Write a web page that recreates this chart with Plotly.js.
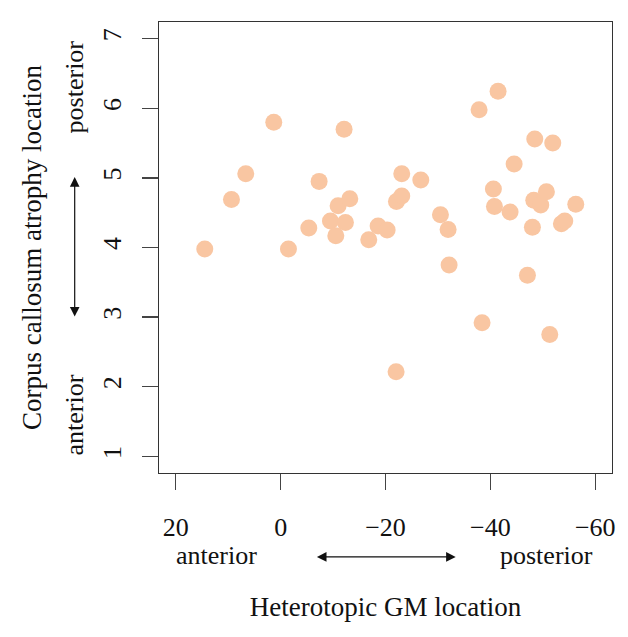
<!DOCTYPE html>
<html>
<head>
<meta charset="utf-8">
<script src="https://cdn.plot.ly/plotly-3.0.1.min.js"></script>
<style>html,body{margin:0;padding:0;background:#fff;}#chart{width:628px;height:637px;}</style>
</head>
<body>
<div id="chart"></div>
<script>
// Heterotopic GM location (x) vs corpus callosum atrophy location (y)
const gmLocation = [14.47, 9.38, 6.65, 1.31, -1.49, -5.37, -7.34, -12.1, -10.96, -13.19,
  -9.50, -12.36, -10.52, -16.81, -18.59, -20.31, -22.02, -22.09, -23.10, -23.10,
  -26.73, -30.48, -31.94, -32.13, -37.85, -38.42, -41.47, -40.58, -40.78, -43.76,
  -44.53, -47.07, -48.02, -48.47, -48.28, -49.61, -50.69, -51.33, -51.90, -53.55,
  -54.19, -56.29];
const ccLocation = [3.98, 4.69, 5.06, 5.80, 3.98, 4.28, 4.95, 5.70, 4.60, 4.70,
  4.38, 4.36, 4.17, 4.11, 4.31, 4.25, 2.215, 4.66, 4.74, 5.06,
  4.97, 4.47, 4.26, 3.75, 5.98, 2.92, 6.245, 4.84, 4.59, 4.51,
  5.20, 3.60, 4.29, 5.56, 4.68, 4.61, 4.80, 2.75, 5.50, 4.34,
  4.38, 4.62];
const xTicks = [20, 0, -20, -40, -60];
const yTicks = [1, 2, 3, 4, 5, 6, 7];
const xTitle = 'Heterotopic GM location';
const yTitle = 'Corpus callosum atrophy location';
const endLabels = {anterior: 'anterior', posterior: 'posterior'};

const serif = '"Liberation Serif", "Times New Roman", serif';
const axisCommon = {
  showgrid: false, zeroline: false,
  showline: true, mirror: true, linecolor: '#333', linewidth: 1.3,
  ticks: 'outside', ticklen: 16, tickwidth: 1.3, tickcolor: '#444',
  tickfont: {family: serif, size: 26, color: '#111'},
  automargin: false
};

const trace = {
  type: 'scatter', mode: 'markers',
  x: gmLocation, y: ccLocation,
  marker: {size: 17, color: '#F9C6A2', line: {width: 0}},
  hoverinfo: 'x+y'
};

const px2x = p => (p - 159.3) / 453;
const px2y = p => (473.3 - p) / 451.6;
const lblFont = {family: serif, size: 26, color: '#111'};

const layout = {
  width: 628, height: 637,
  margin: {l: 159, r: 16, t: 22, b: 164},
  paper_bgcolor: '#fff', plot_bgcolor: '#fff',
  showlegend: false,
  font: {family: serif, color: '#111'},
  xaxis: Object.assign({}, axisCommon, {
    range: [23.2, -63.2], tickvals: xTicks,
    ticklabelstandoff: 14,
    title: {text: xTitle, font: {family: serif, size: 27, color: '#111'}, standoff: 56}
  }),
  yaxis: Object.assign({}, axisCommon, {
    range: [0.76, 7.24], tickvals: yTicks, tickangle: -90,
    ticklabelstandoff: 10,
    title: {text: yTitle, font: {family: serif, size: 27, color: '#111'}, standoff: 48}
  }),
  annotations: [
    {xref: 'paper', yref: 'paper', x: px2x(217), y: px2y(556), xanchor: 'center', yanchor: 'middle',
     text: endLabels.anterior, showarrow: false, font: lblFont},
    {xref: 'paper', yref: 'paper', x: px2x(547), y: px2y(556), xanchor: 'center', yanchor: 'middle',
     text: endLabels.posterior, showarrow: false, font: lblFont},
    {xref: 'paper', yref: 'paper', x: px2x(75), y: px2y(415), xanchor: 'center', yanchor: 'middle',
     text: endLabels.anterior, textangle: -90, showarrow: false, font: lblFont},
    {xref: 'paper', yref: 'paper', x: px2x(75), y: px2y(86.5), xanchor: 'center', yanchor: 'middle',
     text: endLabels.posterior, textangle: -90, showarrow: false, font: lblFont},
    // double-headed arrows
    {xref: 'paper', yref: 'paper', x: px2x(456), y: px2y(557.3),
     ax: -140.3, ay: 0, axref: 'pixel', ayref: 'pixel', text: '', showarrow: true,
     arrowside: 'end+start', arrowhead: 2, startarrowhead: 2, arrowsize: 1.6, startarrowsize: 1.6,
     arrowwidth: 1.2, arrowcolor: '#111'},
    {xref: 'paper', yref: 'paper', x: px2x(75), y: px2y(177),
     ax: 0, ay: 141, axref: 'pixel', ayref: 'pixel', text: '', showarrow: true,
     arrowside: 'end+start', arrowhead: 2, startarrowhead: 2, arrowsize: 1.6, startarrowsize: 1.6,
     arrowwidth: 1.2, arrowcolor: '#111'}
  ]
};

Plotly.newPlot('chart', [trace], layout, {staticPlot: true, displayModeBar: false});
</script>
</body>
</html>
